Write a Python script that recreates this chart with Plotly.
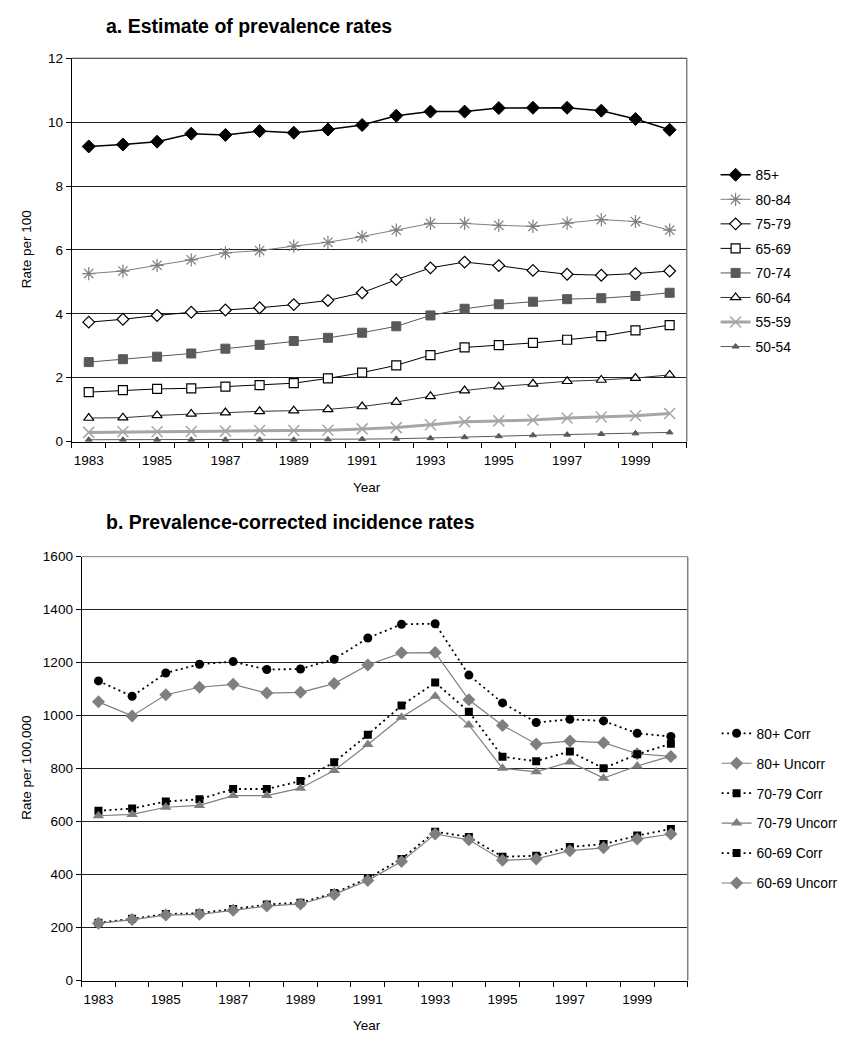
import plotly.graph_objects as go

years = list(range(1983, 2001))
tick_years = list(range(1983, 2000, 2))
tick_labels = [str(y) for y in tick_years]

# ---- Panel a: prevalence (rate per 100) ----
prev_labels = ["85+", "80-84", "75-79", "65-69", "70-74", "60-64", "55-59", "50-54"]
prev_85plus = [9.24, 9.30, 9.39, 9.64, 9.60, 9.72, 9.67, 9.77, 9.91, 10.20, 10.33, 10.33, 10.44, 10.45, 10.45, 10.36, 10.10, 9.76]
prev_80_84 = [5.26, 5.34, 5.52, 5.69, 5.91, 5.98, 6.12, 6.24, 6.42, 6.62, 6.83, 6.83, 6.77, 6.74, 6.84, 6.95, 6.89, 6.62]
prev_75_79 = [3.74, 3.83, 3.95, 4.05, 4.12, 4.19, 4.29, 4.42, 4.66, 5.07, 5.44, 5.62, 5.51, 5.36, 5.24, 5.21, 5.26, 5.34]
prev_65_69 = [1.55, 1.61, 1.65, 1.67, 1.72, 1.77, 1.83, 1.98, 2.16, 2.39, 2.71, 2.95, 3.02, 3.09, 3.19, 3.30, 3.48, 3.65]
prev_70_74 = [2.49, 2.58, 2.66, 2.76, 2.91, 3.03, 3.15, 3.25, 3.41, 3.61, 3.95, 4.16, 4.30, 4.38, 4.46, 4.49, 4.56, 4.66]
prev_60_64 = [0.74, 0.75, 0.82, 0.87, 0.91, 0.95, 0.97, 1.01, 1.10, 1.24, 1.42, 1.60, 1.72, 1.81, 1.89, 1.93, 1.99, 2.09]
prev_55_59 = [0.29, 0.31, 0.31, 0.32, 0.33, 0.35, 0.35, 0.36, 0.40, 0.44, 0.53, 0.62, 0.65, 0.68, 0.74, 0.77, 0.81, 0.88]
prev_50_54 = [0.06, 0.06, 0.06, 0.06, 0.06, 0.06, 0.06, 0.07, 0.08, 0.09, 0.11, 0.14, 0.17, 0.20, 0.22, 0.24, 0.26, 0.29]

# ---- Panel b: incidence (rate per 100,000) ----
inc_labels = ["80+ Corr", "80+ Uncorr", "70-79 Corr", "70-79 Uncorr", "60-69 Corr", "60-69 Uncorr"]
inc_80_corr = [1131, 1073, 1161, 1194, 1204, 1174, 1176, 1213, 1293, 1345, 1347, 1153, 1048, 974, 986, 980, 933, 921]
inc_80_uncorr = [1052, 999, 1079, 1107, 1118, 1085, 1088, 1121, 1191, 1237, 1238, 1060, 963, 893, 904, 898, 856, 846]
inc_70_corr = [641, 649, 676, 684, 723, 723, 753, 824, 928, 1038, 1125, 1015, 845, 828, 865, 801, 854, 894]
inc_70_uncorr = [622, 627, 654, 661, 698, 698, 726, 793, 891, 994, 1073, 965, 801, 788, 825, 764, 810, 847]
inc_60_corr = [218, 233, 251, 254, 270, 287, 294, 330, 386, 459, 562, 542, 467, 471, 504, 515, 547, 572]
inc_60_uncorr = [216, 230, 247, 250, 265, 281, 289, 325, 378, 449, 553, 531, 454, 459, 490, 501, 534, 553]

FONT = "Liberation Sans, Arial, sans-serif"
W, H = 843, 1044

def px_x(p):
    return p / W

def px_y(p):
    return 1 - p / H

fig = go.Figure()

# Panel a traces
prev_series = [prev_85plus, prev_80_84, prev_75_79, prev_65_69, prev_70_74, prev_60_64, prev_55_59, prev_50_54]
prev_styles = [
    dict(line=dict(color="black", width=1.5), marker=dict(symbol="diamond", size=10, color="black", line=dict(color="black", width=1))),
    dict(line=dict(color="#7f7f7f", width=1), marker=dict(symbol="asterisk-open", size=11, color="#7f7f7f", line=dict(color="#7f7f7f", width=1.2))),
    dict(line=dict(color="black", width=1), marker=dict(symbol="diamond", size=9, color="white", line=dict(color="black", width=1.2))),
    dict(line=dict(color="black", width=1), marker=dict(symbol="square", size=9, color="white", line=dict(color="black", width=1.2))),
    dict(line=dict(color="#595959", width=1), marker=dict(symbol="square", size=9, color="#595959", line=dict(color="#595959", width=1))),
    dict(line=dict(color="#333333", width=1), marker=dict(symbol="triangle-up", size=9, color="white", line=dict(color="black", width=1.2))),
    dict(line=dict(color="#a6a6a6", width=3), marker=dict(symbol="x-thin-open", size=11, color="#a6a6a6", line=dict(color="#a6a6a6", width=1.5))),
    dict(line=dict(color="#595959", width=1), marker=dict(symbol="triangle-up", size=6, color="#595959", line=dict(color="#595959", width=1))),
]
for name, vals, st in zip(prev_labels, prev_series, prev_styles):
    fig.add_trace(go.Scatter(x=years, y=vals, name=name, mode="lines+markers",
                             xaxis="x", yaxis="y", legend="legend", legendgroup=name,
                             line=st["line"], marker=st["marker"]))

# Panel b traces
inc_series = [inc_80_corr, inc_80_uncorr, inc_70_corr, inc_70_uncorr, inc_60_corr, inc_60_uncorr]
dot = dict(color="black", width=1.8, dash="2px,3.5px")
solid = dict(color="#7f7f7f", width=1.2)
inc_styles = [
    dict(line=dot, marker=dict(symbol="circle", size=9, color="black")),
    dict(line=solid, marker=dict(symbol="diamond", size=10, color="#7f7f7f")),
    dict(line=dot, marker=dict(symbol="square", size=8, color="black")),
    dict(line=solid, marker=dict(symbol="triangle-up", size=10, color="#7f7f7f")),
    dict(line=dot, marker=dict(symbol="square", size=8, color="black")),
    dict(line=solid, marker=dict(symbol="diamond", size=10, color="#7f7f7f")),
]
for name, vals, st in zip(inc_labels, inc_series, inc_styles):
    fig.add_trace(go.Scatter(x=years, y=vals, name=name, mode="lines+markers",
                             xaxis="x2", yaxis="y2", legend="legend2", legendgroup=name,
                             line=st["line"], marker=st["marker"]))

def xaxis_cfg(domain, anchor):
    return dict(domain=domain, anchor=anchor, range=[1982.5, 2000.5],
                tickmode="array", tickvals=tick_years, ticktext=tick_labels,
                ticks="outside", ticklen=6, tickcolor="rgba(0,0,0,0)",
                showline=True, linecolor="black", linewidth=1,
                showgrid=False, zeroline=False,
                minor=dict(tickmode="array", tickvals=[1982.5 + i for i in range(19)],
                           ticks="outside", ticklen=5, tickcolor="black", tickwidth=1, showgrid=False),
                tickfont=dict(family=FONT, size=13.5, color="black"))

def yaxis_cfg(domain, anchor, rng, dtick):
    return dict(domain=domain, anchor=anchor, range=rng, dtick=dtick, tick0=0,
                ticks="outside", ticklen=5, tickcolor="black", tickwidth=1,
                showline=True, linecolor="black", linewidth=1,
                showgrid=True, gridcolor="#222222", gridwidth=1, zeroline=False,
                tickfont=dict(family=FONT, size=13.5, color="black"))

top_x = [px_x(72), px_x(690)]
top_y = [px_y(441), px_y(52)]
bot_x = [px_x(82), px_x(691)]
bot_y = [px_y(987.7), px_y(557.7)]

fig.update_layout(
    width=W, height=H, autosize=False,
    margin=dict(l=0, r=0, t=0, b=0),
    paper_bgcolor="white", plot_bgcolor="white",
    font=dict(family=FONT, size=13.5, color="black"),
    xaxis=xaxis_cfg(top_x, "y"),
    yaxis=yaxis_cfg(top_y, "x", [0, 12], 2),
    xaxis2=xaxis_cfg(bot_x, "y2"),
    yaxis2=yaxis_cfg(bot_y, "x2", [0, 1600], 200),
    legend=dict(x=px_x(719), y=px_y(257.5), xanchor="left", yanchor="middle",
                traceorder="grouped", tracegroupgap=3.6, itemwidth=30,
                font=dict(family=FONT, size=13.8, color="black"), bgcolor="rgba(0,0,0,0)"),
    legend2=dict(x=px_x(720), y=px_y(813), xanchor="left", yanchor="middle",
                 traceorder="grouped", tracegroupgap=9, itemwidth=30,
                 font=dict(family=FONT, size=13.8, color="black"), bgcolor="rgba(0,0,0,0)"),
    showlegend=True,
)

shapes = []
for xr, yr, topcol in (("x domain", "y domain", "#222222"), ("x2 domain", "y2 domain", "#808080")):
    shapes.append(dict(type="line", xref=xr, yref=yr, x0=1, x1=1, y0=0, y1=1,
                       line=dict(color="#808080", width=1.5)))
    shapes.append(dict(type="line", xref=xr, yref=yr, x0=0, x1=1, y0=1, y1=1,
                       line=dict(color=topcol, width=1)))
fig.update_layout(shapes=shapes)

annotations = [
    dict(text="<b>a. Estimate of prevalence rates</b>", x=px_x(104), y=px_y(19),
         xref="paper", yref="paper", xanchor="left", yanchor="middle", showarrow=False,
         font=dict(family=FONT, size=19.5, color="black")),
    dict(text="<b>b. Prevalence-corrected incidence rates</b>", x=px_x(104), y=px_y(522),
         xref="paper", yref="paper", xanchor="left", yanchor="middle", showarrow=False,
         font=dict(family=FONT, size=19.5, color="black")),
    dict(text="Rate per 100", x=px_x(27), y=px_y(246), textangle=-90,
         xref="paper", yref="paper", xanchor="center", yanchor="middle", showarrow=False,
         font=dict(family=FONT, size=13.5, color="black")),
    dict(text="Rate per 100,000", x=px_x(27), y=px_y(772), textangle=-90,
         xref="paper", yref="paper", xanchor="center", yanchor="middle", showarrow=False,
         font=dict(family=FONT, size=13.5, color="black")),
    dict(text="Year", x=px_x(369), y=px_y(487), xref="paper", yref="paper",
         xanchor="center", yanchor="middle", showarrow=False,
         font=dict(family=FONT, size=13.5, color="black")),
    dict(text="Year", x=px_x(369), y=px_y(1033), xref="paper", yref="paper",
         xanchor="center", yanchor="middle", showarrow=False,
         font=dict(family=FONT, size=13.5, color="black")),
]
fig.update_layout(annotations=annotations)

fig.write_html(
    "out.html",
    config={"displayModeBar": False},
    post_script="document.documentElement.style.margin='0';document.body.style.margin='0';"
                "document.body.style.overflow='hidden';document.documentElement.style.overflow='hidden';",
)
